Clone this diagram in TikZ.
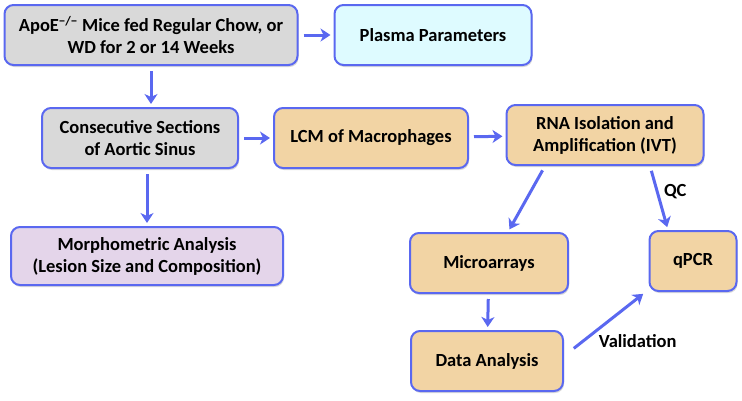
\documentclass[tikz,border=0pt]{standalone}
\usepackage{fontspec}
\setmainfont{Carlito}
\usetikzlibrary{positioning,arrows.meta,shadows}

\definecolor{lineblue}{RGB}{90,104,240}
\definecolor{graybox}{RGB}{217,217,217}
\definecolor{cyanbox}{RGB}{222,251,255}
\definecolor{peachbox}{RGB}{242,212,164}
\definecolor{lilacbox}{RGB}{228,213,234}

\begin{document}
\begin{tikzpicture}[x=1pt, y=-1pt, node distance=100pt, on grid,
  box/.style={draw=lineblue, line width=2pt, rounded corners=9pt,
    minimum height=60pt, align=center,
    font=\fontsize{18.5}{22}\selectfont\bfseries,
    drop shadow={shadow xshift=1pt, shadow yshift=-2pt, opacity=0.3}},
  arr/.style={-{Stealth[length=10pt, width=13pt, inset=3pt]}, color=lineblue,
    line width=3pt, shorten >=3pt, shorten <=5pt},
  lbl/.style={font=\fontsize{18.5}{22}\selectfont\bfseries, text=black}]
\useasboundingbox (0,0) rectangle (742,400);

\node [box, fill=graybox, minimum width=293pt] (apoe) at (151,35)
  {ApoE\textsuperscript{\char"2212/\char"2212} Mice fed Regular Chow, or\\WD for 2 or 14 Weeks};
\node [box, fill=cyanbox, minimum width=197pt] (plasma) [right = 282pt of apoe] {Plasma Parameters};
\node [box, fill=graybox, minimum width=196pt] (sections) [below left = 103pt and 11pt of apoe]
  {Consecutive Sections\\of Aortic Sinus};
\node [box, fill=peachbox, minimum width=194pt] (lcm) [right = 231pt of sections] {LCM of Macrophages};
\node [box, fill=peachbox, minimum width=197pt] (rna) [above right = 3pt and 234pt of lcm]
  {RNA Isolation and\\Amplification (IVT)};
\node [box, fill=lilacbox, minimum width=272pt, minimum height=58pt] (morph) [below right = 118pt and 7pt of sections]
  {Morphometric Analysis\\(Lesion Size and Composition)};
\node [box, fill=peachbox, minimum width=158pt] (micro) [below left = 128pt and 116pt of rna] {Microarrays};
\node [box, fill=peachbox, minimum width=87pt] (qpcr) [below right = 126pt and 88pt of rna] {qPCR};
\node [box, fill=peachbox, minimum width=152pt] (data) [below left = 98pt and 2pt of micro] {Data Analysis};

\path [arr]
(apoe) edge (plasma)
edge (apoe |- sections.north)
(sections) edge (lcm)
([xshift=7pt]sections.south) edge (morph)
(lcm) edge (rna)
([xshift=-60pt]rna.south) edge ([xshift=19pt]micro.north)
([xshift=45pt]rna.south) edge node [lbl, pos=0.4, anchor=west, xshift=2pt] {QC} ([xshift=-25pt]qpcr.north)
(micro) edge (data)
([xshift=9pt, yshift=12pt]data.east) edge [shorten <=1pt] node [lbl, pos=0.4, anchor=north west, xshift=-8pt, yshift=-3pt] {Validation} ([xshift=-3pt]qpcr.south west);
\end{tikzpicture}
\end{document}
